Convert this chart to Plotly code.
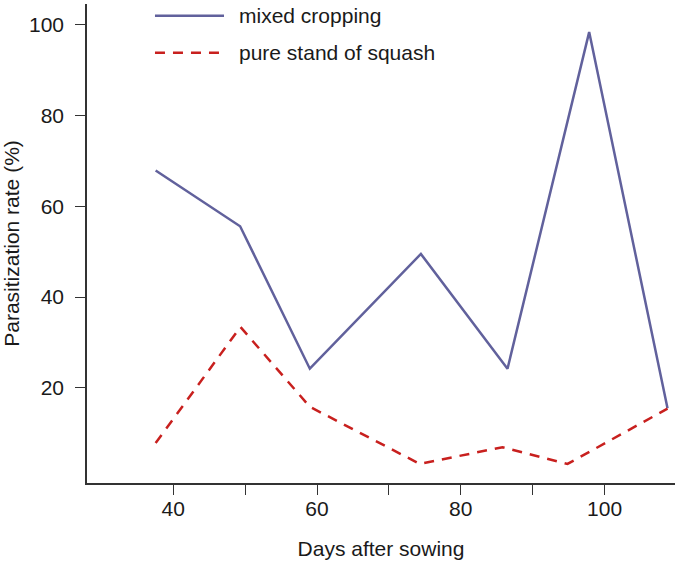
import plotly.graph_objects as go

# Sampling days and parasitization rates (%)
days_mixed = [37.55, 49.3, 59.0, 74.45, 86.5, 97.86, 108.76]
rate_mixed = [67.9, 55.6, 24.2, 49.5, 24.2, 98.4, 15.5]

days_pure = [37.55, 49.35, 59.0, 74.3, 85.8, 94.85, 108.76]
rate_pure = [7.8, 33.4, 15.8, 3.2, 6.9, 3.2, 15.4]

series_names = ["mixed cropping", "pure stand of squash"]
x_ticks = [40, 50, 60, 70, 80, 90, 100]
x_tick_labels = ["40", "", "60", "", "80", "", "100"]
y_ticks = [20, 40, 60, 80, 100]

MIXED_COLOR = "#61619c"
PURE_COLOR = "#c8201e"
TEXT_COLOR = "#1a1a1a"
FONT = "Liberation Sans, Arial, sans-serif"
FONT_SIZE = 21
DASH = "10px,8px"

fig = go.Figure()
fig.add_trace(go.Scatter(x=days_mixed, y=rate_mixed, mode="lines",
                         name=series_names[0],
                         line=dict(color=MIXED_COLOR, width=2.5)))
fig.add_trace(go.Scatter(x=days_pure, y=rate_pure, mode="lines",
                         name=series_names[1],
                         line=dict(color=PURE_COLOR, width=2.5, dash=DASH)))

# Legend keys drawn as paper-space line segments with text labels
legend_rows = [(series_names[0], MIXED_COLOR, "solid", 0.9755),
               (series_names[1], PURE_COLOR, DASH, 0.898)]
for label, color, dash, yk in legend_rows:
    fig.add_shape(type="line", xref="paper", yref="paper",
                  x0=0.1156, x1=0.233, y0=yk, y1=yk,
                  line=dict(color=color, width=2.5, dash=dash))
    fig.add_annotation(xref="paper", yref="paper", x=0.2545, y=yk,
                       text=label, showarrow=False, xanchor="left",
                       yanchor="middle",
                       font=dict(family=FONT, size=FONT_SIZE, color=TEXT_COLOR))

axis_common = dict(showline=True, linecolor="#333333", linewidth=1.5,
                   showgrid=False, zeroline=False, ticks="outside",
                   ticklen=10, tickwidth=1.2, tickcolor="#333333",
                   tickfont=dict(family=FONT, size=FONT_SIZE, color=TEXT_COLOR))

fig.update_layout(
    width=675, height=564,
    margin=dict(l=87, r=0, t=4, b=81),
    paper_bgcolor="white", plot_bgcolor="white",
    showlegend=False,
    xaxis=dict(range=[28, 109.8], tickvals=x_ticks, ticktext=x_tick_labels,
               ticklabelstandoff=-4,
               title=dict(text="Days after sowing", standoff=22,
                          font=dict(family=FONT, size=FONT_SIZE, color=TEXT_COLOR)),
               **axis_common),
    yaxis=dict(range=[-1, 104.6], tickvals=y_ticks, ticklabelstandoff=7,
               title=dict(text="Parasitization rate (%)", standoff=6,
                          font=dict(family=FONT, size=FONT_SIZE, color=TEXT_COLOR)),
               **axis_common),
)

fig.write_html("out.html")
